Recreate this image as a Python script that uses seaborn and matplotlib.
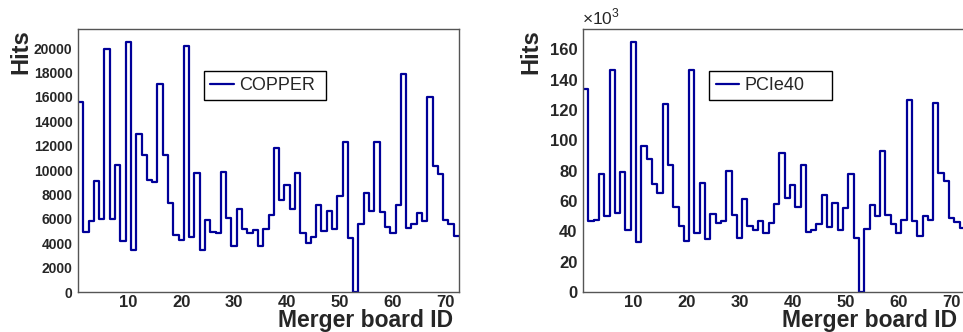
import numpy as np
import pandas as pd
import matplotlib
matplotlib.use("Agg")
import matplotlib.pyplot as plt
from matplotlib.ticker import MultipleLocator, FuncFormatter
import seaborn as sns

board_id = list(range(1, 73))

copper_hits = [
    15600, 4950, 5850, 9100, 6000, 19900, 6000, 10450, 4150, 20550,
    3450, 12950, 11250, 9150, 9050, 17050, 11200, 7300, 4700, 4250,
    20150, 4500, 9750, 3450, 5900, 4950, 4800, 9850, 6050, 3750,
    6800, 5130, 4880, 5080, 3770, 5130, 6300, 11790, 7530, 8760,
    6770, 9770, 4880, 3980, 4530, 7120, 4990, 6660, 5130, 7860,
    12300, 4450, 0, 5540, 8130, 6660, 12300, 6550, 5350, 4860,
    7120, 17900, 5210, 5540, 6520, 5810, 15990, 10340, 9690, 5920,
    5540, 4610,
]

pcie40_hits = [
    134100, 46500, 47200, 77900, 50000, 146100, 52400, 79000, 41000, 165200,
    32900, 96100, 87800, 71300, 65600, 123800, 83800, 56200, 43700, 33800,
    146600, 38800, 72000, 34700, 51600, 45600, 46500, 79900, 50500, 35600,
    61400, 43500, 40800, 47000, 39100, 45600, 57900, 91700, 62100, 70900,
    56200, 84000, 39300, 40800, 44800, 63900, 42600, 58400, 40800, 55100,
    77500, 35800, 0, 41500, 57500, 50000, 93000, 50700, 44800, 39100,
    47400, 126400, 47000, 37100, 50000, 47400, 124600, 78300, 73500, 48500,
    46300, 41900,
]

series_names = ["COPPER", "PCIe40"]
x_title = "Merger board ID"
y_title = "Hits"

sns.set_style("white")
plt.rcParams["font.family"] = ["Liberation Sans", "DejaVu Sans"]
plt.rcParams["mathtext.fontset"] = "custom"
plt.rcParams["mathtext.rm"] = "Liberation Sans"

line_color = "#000099"
W, H = 963, 332
fig = plt.figure(figsize=(W / 100, H / 100), dpi=100)

ax_l = fig.add_axes([78 / W, (H - 292) / H, (459 - 78) / W, (292 - 29) / H])
ax_r = fig.add_axes([583 / W, (H - 292) / H, (965 - 583) / W, (292 - 29) / H])

df = pd.DataFrame({"id": board_id, "COPPER": copper_hits, "PCIe40": pcie40_hits})

panels = [
    (ax_l, "COPPER", 10, 2000, 400, 78, 459 - 78, 453, 32),
    (ax_r, "PCIe40", 12, 20000, 4000, 583, 965 - 583, 957, 542),
]

for ax, name, ytick_size, ymaj, ymin, x0px, wpx, xlab_right, ylab_right in panels:
    sns.histplot(data=df, x="id", weights=name, discrete=True,
                 element="step", fill=False, color=line_color,
                 linewidth=1.6, label=name, ax=ax)
    vals = df[name].to_numpy()
    ax.set_xlim(0.5, 72.5)
    ax.set_ylim(0, vals.max() * 1.05)
    ax.xaxis.set_major_locator(MultipleLocator(10))
    ax.xaxis.set_minor_locator(MultipleLocator(2))
    ax.yaxis.set_major_locator(MultipleLocator(ymaj))
    ax.yaxis.set_minor_locator(MultipleLocator(ymin))
    ax.tick_params(axis="both", which="both", direction="in",
                   top=False, right=False, color="black", width=1)
    ax.tick_params(axis="x", which="major", length=8, pad=2, labelsize=12)
    ax.tick_params(axis="x", which="minor", length=4)
    ax.tick_params(axis="y", which="major", length=11, pad=4, labelsize=ytick_size)
    ax.tick_params(axis="y", which="minor", length=5)
    for sp in ax.spines.values():
        sp.set_color("#555555")
        sp.set_linewidth(1.0)
    ax.set_xlabel(x_title, fontsize=16.5, fontweight="bold", ha="right")
    ax.xaxis.set_label_coords((xlab_right - x0px) / wpx, -(309.5 - 292) / 263)
    ax.set_ylabel(y_title, fontsize=17, fontweight="bold", ha="right")
    ax.yaxis.set_label_coords((ylab_right - x0px) / wpx, 1.0)
    leg = ax.legend(loc="center", bbox_to_anchor=(0.331, 0.722, 0.32, 0.126),
                    mode="expand", fontsize=13, frameon=True, fancybox=False,
                    borderpad=0.35, handlelength=1.3, handletextpad=0.3,
                    borderaxespad=0)
    leg.get_frame().set_edgecolor("black")
    leg.get_frame().set_linewidth(1.0)
    leg.get_frame().set_alpha(1)

ax_r.yaxis.set_major_formatter(FuncFormatter(lambda v, p: f"{v/1000:g}"))
for ax in (ax_l, ax_r):
    for lab in ax.get_xticklabels() + ax.get_yticklabels():
        lab.set_fontweight("bold")
ax_r.text(-0.003, 1.005, r"$\times10^{3}$", transform=ax_r.transAxes,
          fontsize=12.5, ha="left", va="bottom")

fig.savefig("out.png", dpi=100)
